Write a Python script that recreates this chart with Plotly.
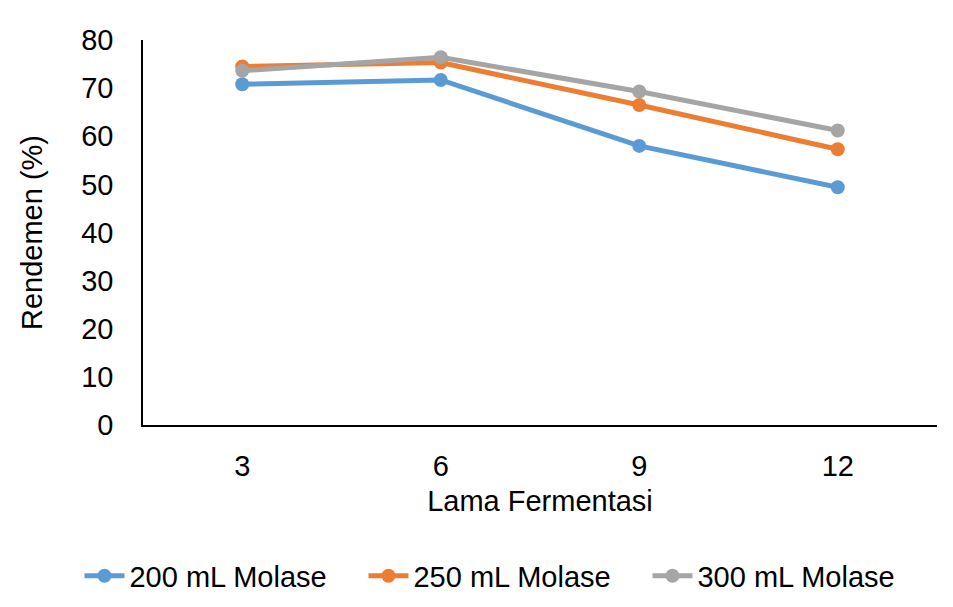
import plotly.graph_objects as go

# Fermentation time (days) and yield (%) for each molasses dose
lama_fermentasi = ["3", "6", "9", "12"]
molase_200 = [70.8, 71.7, 58.0, 49.4]
molase_250 = [74.5, 75.3, 66.5, 57.3]
molase_300 = [73.6, 76.4, 69.3, 61.2]
y_ticks = [0, 10, 20, 30, 40, 50, 60, 70, 80]

series = [
    ("200 mL Molase", molase_200, "#5B9BD5"),
    ("250 mL Molase", molase_250, "#ED7D31"),
    ("300 mL Molase", molase_300, "#A5A5A5"),
]

fig = go.Figure()
for name, vals, color in series:
    fig.add_trace(go.Scatter(
        x=lama_fermentasi, y=vals, name=name, mode="lines+markers",
        line=dict(color=color, width=5),
        marker=dict(color=color, size=14),
    ))

font = dict(family="Liberation Sans, Arial, sans-serif", size=29, color="#000000")

fig.update_layout(
    width=953, height=607,
    margin=dict(l=143, r=16, t=40, b=182, autoexpand=False),
    paper_bgcolor="white", plot_bgcolor="white",
    font=font,
    showlegend=True,
    legend=dict(orientation="h", x=-0.08, xanchor="left", y=-0.392, yanchor="middle",
                font=font, itemwidth=40, tracegroupgap=0,
                entrywidth=229, entrywidthmode="pixels"),
    xaxis=dict(
        type="category", range=[-0.5, 3.5],
        showline=True, linecolor="#000000", linewidth=1.5,
        showgrid=False, zeroline=False,
        ticks="outside", ticklen=0, ticklabelstandoff=14,
        title=dict(text="Lama Fermentasi", standoff=10, font=font),
        tickfont=font,
    ),
    yaxis=dict(
        range=[0, 80], tickvals=y_ticks,
        showline=True, linecolor="#000000", linewidth=1.5,
        showgrid=False, zeroline=False,
        ticks="outside", ticklen=0, ticklabelstandoff=22,
        title=dict(text="Rendemen (%)", standoff=30, font=font),
        tickfont=font,
    ),
)

fig.write_html("out.html")
